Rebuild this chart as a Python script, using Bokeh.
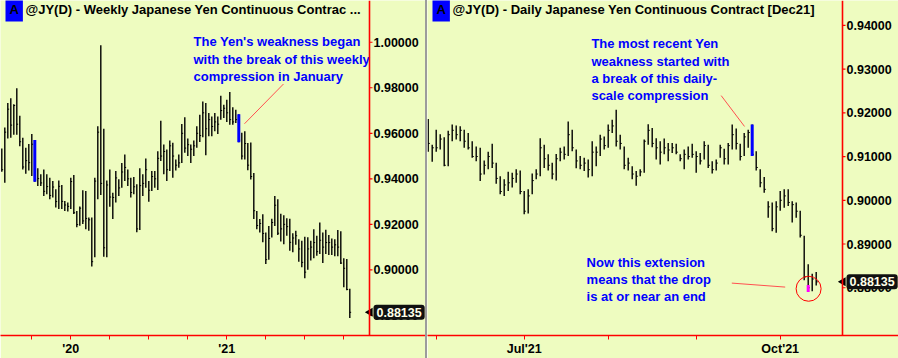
import math
from bokeh.plotting import figure
from bokeh.layouts import row
from bokeh.models import (FixedTicker, Label, Range1d, ColumnDataSource, Div, Span)
from bokeh.transform import dodge
from bokeh.core.properties import value
from bokeh.embed import file_html
from bokeh.resources import INLINE

BG = "#EEFCC0"
FONT = "Liberation Sans"

# ---------------- weekly data (left panel) ----------------
w_high = [0.9533, 0.9626, 0.9733, 0.9754, 0.9728, 0.9798, 0.9677, 0.9580, 0.9536, 0.9553,
          0.9597, 0.9571, 0.9446, 0.9420, 0.9441, 0.9420, 0.9405, 0.9390, 0.9354, 0.9393,
          0.9373, 0.9303, 0.9296, 0.9405, 0.9417, 0.9259, 0.9278, 0.9350, 0.9347, 0.9230,
          0.9230, 0.9405, 0.9631, 0.9987, 0.9620, 0.9393, 0.9441, 0.9339, 0.9434, 0.9398,
          0.9470, 0.9507, 0.9441, 0.9405, 0.9408, 0.9376, 0.9446, 0.9420, 0.9489, 0.9390,
          0.9434, 0.9434, 0.9521, 0.9655, 0.9551, 0.9529, 0.9568, 0.9558, 0.9485, 0.9507,
          0.9641, 0.9670, 0.9577, 0.9551, 0.9568, 0.9631, 0.9682, 0.9740, 0.9733, 0.9689,
          0.9674, 0.9689, 0.9674, 0.9765, 0.9725, 0.9747, 0.9781, 0.9714, 0.9703, 0.9684,
          0.9602, 0.9609, 0.9557, 0.9560, 0.9426, 0.9259, 0.9223, 0.9244, 0.9164, 0.9193,
          0.9225, 0.9324, 0.9310, 0.9247, 0.9240, 0.9227, 0.9225, 0.9161, 0.9172, 0.9135,
          0.9128, 0.9145, 0.9143, 0.9128, 0.9179, 0.9150, 0.9208, 0.9164, 0.9176, 0.9153,
          0.9138, 0.9135, 0.9175, 0.9170, 0.9051, 0.9048, 0.8917]
w_low = [0.9431, 0.9383, 0.9577, 0.9580, 0.9594, 0.9594, 0.9543, 0.9441, 0.9422, 0.9437,
         0.9412, 0.9387, 0.9368, 0.9368, 0.9325, 0.9332, 0.9310, 0.9318, 0.9274, 0.9267,
         0.9267, 0.9259, 0.9256, 0.9267, 0.9245, 0.9187, 0.9194, 0.9201, 0.9179, 0.9172,
         0.9015, 0.9056, 0.9310, 0.9329, 0.9058, 0.9056, 0.9277, 0.9223, 0.9296, 0.9325,
         0.9361, 0.9390, 0.9368, 0.9318, 0.9332, 0.9165, 0.9175, 0.9325, 0.9361, 0.9299,
         0.9347, 0.9361, 0.9351, 0.9478, 0.9420, 0.9390, 0.9434, 0.9405, 0.9437, 0.9449,
         0.9470, 0.9514, 0.9500, 0.9470, 0.9500, 0.9536, 0.9562, 0.9583, 0.9504, 0.9587,
         0.9587, 0.9609, 0.9597, 0.9660, 0.9667, 0.9650, 0.9638, 0.9638, 0.9645, 0.9561,
         0.9485, 0.9485, 0.9438, 0.9397, 0.9223, 0.9179, 0.9164, 0.9121, 0.9026, 0.9045,
         0.9142, 0.9193, 0.9153, 0.9125, 0.9113, 0.9150, 0.9084, 0.9077, 0.9110, 0.9036,
         0.9012, 0.8963, 0.9001, 0.9041, 0.9051, 0.9062, 0.9070, 0.9030, 0.9070, 0.9065,
         0.9065, 0.9060, 0.9060, 0.9026, 0.8924, 0.8910, 0.8789]
w_close = [0.9440, 0.9605, 0.9706, 0.9636, 0.9722, 0.9640, 0.9563, 0.9452, 0.9480, 0.9471,
           0.9552, 0.9395, 0.9401, 0.9382, 0.9345, 0.9366, 0.9327, 0.9364, 0.9300, 0.9367,
           0.9301, 0.9285, 0.9279, 0.9388, 0.9251, 0.9199, 0.9271, 0.9215, 0.9226, 0.9220,
           0.9036, 0.9390, 0.9605, 0.9380, 0.9097, 0.9373, 0.9320, 0.9318, 0.9404, 0.9360,
           0.9430, 0.9450, 0.9400, 0.9340, 0.9365, 0.9180, 0.9370, 0.9380, 0.9440, 0.9350,
           0.9410, 0.9400, 0.9490, 0.9500, 0.9520, 0.9440, 0.9545, 0.9500, 0.9460, 0.9470,
           0.9600, 0.9535, 0.9550, 0.9530, 0.9545, 0.9600, 0.9590, 0.9690, 0.9620, 0.9660,
           0.9630, 0.9650, 0.9640, 0.9700, 0.9710, 0.9690, 0.9660, 0.9650, 0.9660, 0.9570,
           0.9500, 0.9555, 0.9460, 0.9410, 0.9260, 0.9195, 0.9204, 0.9160, 0.9045, 0.9138,
           0.9208, 0.9284, 0.9161, 0.9180, 0.9200, 0.9190, 0.9121, 0.9140, 0.9150, 0.9092,
           0.9033, 0.8990, 0.9092, 0.9100, 0.9120, 0.9080, 0.9130, 0.9100, 0.9120, 0.9120,
           0.9100, 0.9110, 0.9100, 0.9030, 0.9007, 0.8914, 0.88135]
w_blue = [12, 80]
w_ticks = [11, 24, 37, 50, 63, 76, 89, 102, 115]
w_tick_labels = ["", "'20", "", "", "", "'21", "", "", ""]
w_yticks = [0.88, 0.90, 0.92, 0.94, 0.96, 0.98, 1.00]

# ---------------- daily data (right panel) ----------------
d_high = [0.9186, 0.9127, 0.9161, 0.9151, 0.9144, 0.9159, 0.9173, 0.9171, 0.9169, 0.9161,
          0.9154, 0.9135, 0.9123, 0.9120, 0.9091, 0.9111, 0.9129, 0.9086, 0.9055, 0.9048,
          0.9065, 0.9063, 0.9071, 0.9068, 0.9021, 0.9025, 0.9061, 0.9071, 0.9142, 0.9127,
          0.9105, 0.9086, 0.9106, 0.9120, 0.9123, 0.9180, 0.9161, 0.9116, 0.9101, 0.9097,
          0.9093, 0.9135, 0.9123, 0.9150, 0.9146, 0.9173, 0.9184, 0.9207, 0.9150, 0.9123,
          0.9097, 0.9078, 0.9067, 0.9071, 0.9139, 0.9174, 0.9165, 0.9142, 0.9135, 0.9141,
          0.9131, 0.9131, 0.9129, 0.9105, 0.9116, 0.9123, 0.9129, 0.9112, 0.9108, 0.9135,
          0.9127, 0.9089, 0.9093, 0.9127, 0.9118, 0.9131, 0.9173, 0.9164, 0.9129, 0.9154,
          0.9161, 0.9173, 0.9112, 0.9071, 0.9053, 0.8998, 0.8995, 0.8998, 0.9021, 0.9025,
          0.9025, 0.8998, 0.8995, 0.8976, 0.8919, 0.8854, 0.8832, 0.8836]
d_low = [0.9111, 0.9088, 0.9111, 0.9116, 0.9078, 0.9078, 0.9135, 0.9139, 0.9135, 0.9120,
         0.9116, 0.9097, 0.9089, 0.9044, 0.9059, 0.9071, 0.9074, 0.9038, 0.9014, 0.9010,
         0.9021, 0.9029, 0.9040, 0.9014, 0.8968, 0.8970, 0.9014, 0.9048, 0.9055, 0.9074,
         0.9068, 0.9048, 0.9045, 0.9089, 0.9093, 0.9101, 0.9112, 0.9073, 0.9071, 0.9067,
         0.9052, 0.9055, 0.9078, 0.9101, 0.9116, 0.9120, 0.9154, 0.9123, 0.9116, 0.9071,
         0.9068, 0.9048, 0.9033, 0.9055, 0.9063, 0.9127, 0.9121, 0.9093, 0.9082, 0.9105,
         0.9089, 0.9108, 0.9105, 0.9089, 0.9071, 0.9093, 0.9097, 0.9063, 0.9082, 0.9093,
         0.9074, 0.9061, 0.9068, 0.9097, 0.9082, 0.9082, 0.9116, 0.9116, 0.9091, 0.9101,
         0.9120, 0.9101, 0.9068, 0.9030, 0.9017, 0.8960, 0.8929, 0.8926, 0.8976, 0.8983,
         0.8987, 0.8949, 0.8960, 0.8915, 0.8817, 0.8790, 0.8792, 0.8805]
d_close = [0.9130, 0.9120, 0.9120, 0.9140, 0.9080, 0.9150, 0.9160, 0.9150, 0.9160, 0.9135,
           0.9120, 0.9100, 0.9100, 0.9060, 0.9080, 0.9100, 0.9085, 0.9050, 0.9020, 0.9035,
           0.9040, 0.9050, 0.9060, 0.9020, 0.8975, 0.9010, 0.9045, 0.9060, 0.9120, 0.9095,
           0.9080, 0.9060, 0.9095, 0.9110, 0.9105, 0.9150, 0.9120, 0.9090, 0.9080, 0.9085,
           0.9070, 0.9110, 0.9110, 0.9140, 0.9125, 0.9160, 0.9170, 0.9135, 0.9130, 0.9080,
           0.9085, 0.9060, 0.9055, 0.9065, 0.9135, 0.9160, 0.9130, 0.9120, 0.9110, 0.9120,
           0.9115, 0.9120, 0.9110, 0.9095, 0.9105, 0.9100, 0.9105, 0.9100, 0.9090, 0.9125,
           0.9080, 0.9070, 0.9085, 0.9120, 0.9095, 0.9125, 0.9150, 0.9130, 0.9100, 0.9145,
           0.9155, 0.9105, 0.9075, 0.9040, 0.9025, 0.8985, 0.8935, 0.8985, 0.9000, 0.9010,
           0.8995, 0.8990, 0.8975, 0.8920, 0.8825, 0.8800, 0.8820, 0.88135]
d_blue = [82]
d_flag = [96]
d_flag_top = [0.8806]
d_ticks = [3, 25, 46, 68, 89]
d_tick_labels = ["", "Jul'21", "", "", "Oct'21"]
d_yticks = [0.88, 0.89, 0.90, 0.91, 0.92, 0.93, 0.94]

last_price = 0.88135


def make_panel(width, xr, yr, highs, lows, closes, tick_len, xticks, xlabels,
               yticks, y_axis_x, unit_px, title):
    p = figure(width=width, height=358, title=None,
               x_range=Range1d(*xr), y_range=Range1d(*yr),
               y_axis_location=None, toolbar_location=None, output_backend="svg",
               background_fill_color=BG, border_fill_color=BG, outline_line_color=None,
               min_border_left=0, min_border_top=0, min_border_right=0, min_border_bottom=21)
    p.grid.visible = False
    ax = p.xaxis[0]
    ax.axis_line_color = "#FF0000"
    ax.axis_line_width = 1.3
    ax.major_tick_line_color = "#FF0000"
    ax.major_tick_in = 0
    ax.major_tick_out = 4
    ax.minor_tick_line_color = None
    ax.major_label_text_font = FONT
    ax.major_label_text_font_style = "bold"
    ax.major_label_text_font_size = "12.5px"
    ax.major_label_text_color = "#000000"
    ax.major_label_standoff = 2
    ax.ticker = FixedTicker(ticks=xticks)
    ax.major_label_overrides = {t: lab for t, lab in zip(xticks, xlabels)}

    # price scale (right edge of the chart area)
    p.add_layout(Span(location=y_axis_x, dimension="height", line_color="#FF0000",
                      line_width=1.6))
    p.segment(x0=[y_axis_x] * len(yticks), y0=yticks,
              x1=[y_axis_x + 3.0 / unit_px] * len(yticks), y1=yticks,
              line_color="#FF0000", line_width=1.2)
    p.text(x=[y_axis_x + 4.0 / unit_px] * len(yticks), y=yticks,
           text=["%.5f" % t for t in yticks], text_color="#000000",
           text_font=value(FONT), text_font_style="bold", text_font_size=value("12.5px"),
           text_baseline="middle", text_align="left")

    idx = list(range(1, len(highs) + 1))
    src = ColumnDataSource(dict(x=idx, hi=highs, lo=lows, cl=closes))
    p.segment(x0="x", y0="lo", x1="x", y1="hi", source=src,
              line_color="black", line_width=1.4)
    p.segment(x0="x", y0="cl", x1=dodge("x", tick_len, range=p.x_range), y1="cl",
              source=src, line_color="black", line_width=1)

    # title strip
    ytitle = yr[1] - 9.5 * (yr[1] - yr[0]) / 337.0
    p.add_layout(Label(x=xr[0] + 5.0 / unit_px, y=ytitle, text="A", text_color="#000000",
                       text_font=FONT, text_font_style="bold", text_font_size="13px",
                       text_baseline="middle", background_fill_color="#0000FF", padding=4))
    p.text(x=[xr[0] + 25.0 / unit_px], y=[ytitle], text=[title],
           text_color="#000000", text_font=value(FONT), text_font_style="bold",
           text_font_size=value("13px"), text_baseline="middle", text_align="left")

    # last price marker on the price scale
    p.scatter(x=[y_axis_x + 0.5 / unit_px], y=[closes[-1]], marker="triangle",
              angle=math.pi / 2, size=9, fill_color="#000000", line_color=None)
    p.add_layout(Label(x=y_axis_x + 4.0 / unit_px, y=closes[-1], text="%.5f" % closes[-1],
                       text_color="#FFFFE8", text_font=FONT, text_font_style="bold",
                       text_font_size="12.5px", text_baseline="middle",
                       background_fill_color="#101010", padding=3, border_radius=3))
    return p


ANN = dict(text_color="#0000FF", text_font=value(FONT), text_font_style="bold",
           text_font_size=value("13px"), text_baseline="top", text_align="left",
           text_line_height=1.15)

# ---------------- left (weekly) ----------------
left = make_panel(425, (0.567, 0.567 + 425 / 3.0), (0.87117, 1.01834),
                  w_high, w_low, w_close, 0.45, w_ticks, w_tick_labels, w_yticks,
                  123.567, 3.0, "@JY(D) - Weekly  Japanese Yen Continuous Contrac ...")
left.segment(x0=w_blue, y0=[w_low[i - 1] for i in w_blue],
             x1=w_blue, y1=[w_high[i - 1] for i in w_blue],
             line_color="#0000FF", line_width=3)
left.segment(x0=[81.9], y0=[0.96419], x1=[94.9], y1=[0.98166],
             line_color="#FF5050", line_width=1)
left.text(x=[64.9], y=[1.00349],
          text=["The Yen's weakness began\nwith the break of this weekly\ncompression in January"],
          **ANN)

# ---------------- right (daily) ----------------
right = make_panel(471, (0.825, 0.825 + 471 / 4.0), (0.86908, 0.94568),
                   d_high, d_low, d_close, 0.4, d_ticks, d_tick_labels, d_yticks,
                   104.575, 4.0, "@JY(D) - Daily  Japanese Yen Continuous Contract [Dec21]")
right.segment(x0=d_blue, y0=[d_low[i - 1] for i in d_blue],
              x1=d_blue, y1=[d_high[i - 1] for i in d_blue],
              line_color="#0000FF", line_width=3)
right.segment(x0=d_flag, y0=[d_low[i - 1] for i in d_flag], x1=d_flag, y1=d_flag_top,
              line_color="#FF00FF", line_width=3)
right.scatter(x=[96.1], y=[0.87977], marker="circle", size=25,
              fill_color=None, line_color="#FF0000", line_width=1)
right.segment(x0=[74.25, 76.9], y0=[0.92393, 0.88106], x1=[80.08, 90.25], y1=[0.91688, 0.88015],
              line_color="#FF5050", line_width=1)
right.text(x=[41.8, 40.6], y=[0.93750, 0.88749],
           text=["The most recent Yen\nweakness started with\na break of this daily-\nscale compression",
                 "Now this extension\nmeans that the drop\nis at or near an end"],
           **ANN)

divider = Div(width=2, height=358, margin=0, styles={"background-color": "#9C9C9C"})

layout = row(left, divider, right, spacing=0)
open("out.html", "w").write(file_html(layout, INLINE))
